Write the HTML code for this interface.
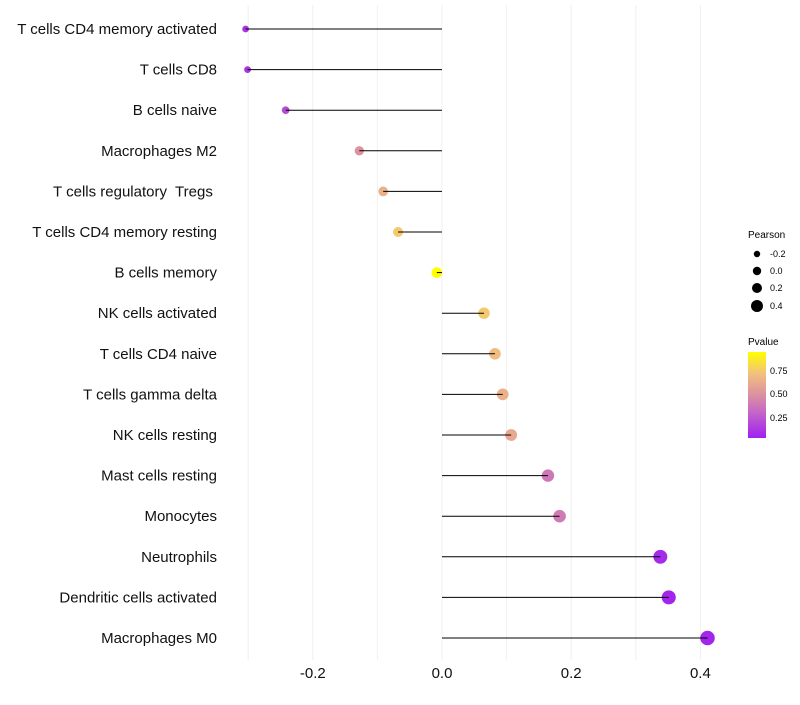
<!DOCTYPE html>
<html><head><meta charset="utf-8"><style>
body{margin:0;background:#fff;font-family:"Liberation Sans",Arial,sans-serif}
text{white-space:pre}
</style></head><body>
<svg id="chart" width="800" height="700" xmlns="http://www.w3.org/2000/svg" font-family="Liberation Sans, Arial, sans-serif">
<defs><linearGradient id="pg" x1="0" y1="1" x2="0" y2="0">
<stop offset="0" stop-color="#a020f0"/><stop offset="0.3" stop-color="#c466c8"/>
<stop offset="0.5" stop-color="#dc90a0"/><stop offset="0.75" stop-color="#f2c07e"/>
<stop offset="1" stop-color="#ffff00"/></linearGradient></defs>
<g id="grid"></g><g id="marks"></g><g id="labels"></g>
<g font-size="9">
<text x="748" y="238" font-size="10">Pearson</text>
<circle cx="757" cy="254" r="3.2"/><text x="770" y="257">-0.2</text>
<circle cx="757" cy="271" r="4.2"/><text x="770" y="274">0.0</text>
<circle cx="757" cy="288" r="5"/><text x="770" y="291">0.2</text>
<circle cx="757" cy="306" r="6"/><text x="770" y="309">0.4</text>
</g>
<g font-size="9">
<text x="748" y="345" font-size="10">Pvalue</text>
<rect x="748" y="352" width="18" height="86" fill="url(#pg)"/>
<text x="770" y="374">0.75</text><text x="770" y="397">0.50</text><text x="770" y="421">0.25</text>
</g>
</svg>
<script>
const categories=["T cells CD4 memory activated","T cells CD8","B cells naive","Macrophages M2","T cells regulatory  Tregs ","T cells CD4 memory resting","B cells memory","NK cells activated","T cells CD4 naive","T cells gamma delta","NK cells resting","Mast cells resting","Monocytes","Neutrophils","Dendritic cells activated","Macrophages M0"];
const pearson=[-0.304,-0.301,-0.242,-0.128,-0.091,-0.068,-0.008,0.065,0.082,0.094,0.107,0.164,0.182,0.338,0.351,0.411];
const pvalues=[0.1,0.1,0.2,0.5,0.65,0.75,0.95,0.75,0.7,0.65,0.6,0.38,0.4,0.07,0.05,0.05];
const xTicks=[-0.2,0.0,0.2,0.4];
const xTickLabels=["-0.2","0.0","0.2","0.4"];
const NS="http://www.w3.org/2000/svg";
const X=v=>442+v*646;
const Y=i=>29+i*40.6;
const R=v=>Math.sqrt(Math.max(4,29+58*v));
function lerp(a,b,t){return a.map((c,k)=>Math.round(c+(b[k]-c)*t));}
const stops=[[0,[160,32,240]],[0.3,[196,102,200]],[0.5,[220,144,160]],[0.75,[242,192,126]],[1,[255,255,0]]];
function col(p){const t=Math.max(0,Math.min(1,(p-0.03)/0.92));for(let k=1;k<stops.length;k++){if(t<=stops[k][0]){const a=stops[k-1],b=stops[k];const c=lerp(a[1],b[1],(t-a[0])/(b[0]-a[0]));return `rgb(${c})`;}}return "rgb(255,255,0)";}
function el(tag,attrs,parent){const e=document.createElementNS(NS,tag);for(const k in attrs)e.setAttribute(k,attrs[k]);parent.appendChild(e);return e;}
const grid=document.getElementById('grid'),marks=document.getElementById('marks'),labels=document.getElementById('labels');
for(let v=-0.3;v<=0.41;v+=0.1){const g=el('line',{x1:X(v),x2:X(v),y1:5,y2:660,stroke:'#f0f0f0','stroke-width':1},grid);

}
xTicks.forEach((v,i)=>{const t=el('text',{x:X(v),y:678,'text-anchor':'middle','font-size':15,fill:'#111'},labels);t.textContent=xTickLabels[i];

});
categories.forEach((c,i)=>{
const y=Y(i);
const t=el('text',{x:217,y:y+5,'text-anchor':'end','font-size':15,fill:'#111'},labels);t.textContent=c;


const p=el('circle',{cx:X(pearson[i]),cy:y,r:R(pearson[i]),fill:col(pvalues[i])},marks);


const l=el('line',{x1:X(0),x2:X(pearson[i]),y1:y,y2:y,stroke:'#000','stroke-width':1},marks);


});
</script>
</body></html>
